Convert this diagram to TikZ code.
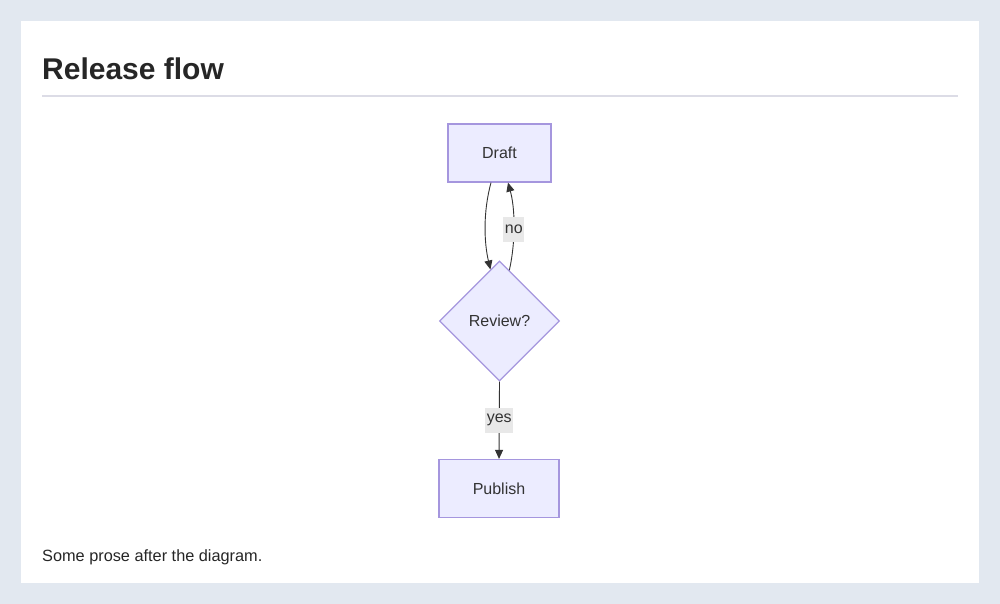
\documentclass[tikz,border=0pt]{standalone}
\usepackage{fontspec}
\setmainfont{Liberation Sans}
\usetikzlibrary{shapes.geometric,arrows.meta}
\definecolor{pagebg}{HTML}{E2E8F0}
\definecolor{nodefill}{HTML}{ECECFF}
\definecolor{nodeline}{HTML}{A596DE}
\definecolor{ink}{HTML}{333333}
\definecolor{rulegrey}{HTML}{DCDCE6}
\definecolor{labelbg}{HTML}{E8E8E8}
\tikzset{
    stepbox/.style={draw=nodeline, fill=nodefill, line width=1.2pt, text=ink,
        minimum width=#1, minimum height=58pt, inner sep=0pt, font=\fontsize{16}{19}\selectfont},
    choice/.style={diamond, draw=nodeline, fill=nodefill, line width=1.2pt, text=ink,
        minimum width=120pt, minimum height=120pt, inner sep=0pt, font=\fontsize{16}{19}\selectfont},
    flow/.style={draw=ink, line width=0.9pt, -{Triangle[length=9pt,width=8pt]}},
    edgelabel/.style={fill=labelbg, text=ink, inner xsep=1.5pt, inner ysep=0pt,
        minimum height=25pt, font=\fontsize{16}{19}\selectfont}
}
\begin{document}
\begin{tikzpicture}[x=1pt,y=-1pt]
    % Sfondo e pagina
    \fill[pagebg] (0,0) rectangle (1000,604);
    \useasboundingbox (0,0) rectangle (1000,604);
    \fill[white] (21,21) rectangle (979,583);
    % Titolo
    \node[anchor=base west, inner sep=0pt, text=black!85, font=\bfseries\fontsize{30}{36}\selectfont] (title) at (42,80) {Release flow};
    \draw[rulegrey, line width=1.2pt] (42,96) -- (958,96);
    % Nodi
    \node[stepbox=103pt] (draft) at (499.5,153) {Draft};
    \node[choice] (review) at (499.5,321) {Review?};
    \node[stepbox=120pt] (publish) at (499,488.5) {Publish};
    % Archi
    \draw[flow] ([xshift=-8.5pt]draft.south) .. controls (483,212) and (484,242) .. (review.100);
    \draw[flow] (review.79) .. controls (516,240) and (515,208) .. node[edgelabel, pos=.45] (nolabel) {no} ([xshift=8.5pt]draft.south);
    \draw[flow] (review.south) -- node[edgelabel] (yeslabel) {yes} (publish.north);
    % Testo
    \node[anchor=base west, inner sep=0pt, text=black!85, font=\fontsize{16.3}{19}\selectfont] (prose) at (42,561) {Some prose after the diagram.};
\end{tikzpicture}
\end{document}
